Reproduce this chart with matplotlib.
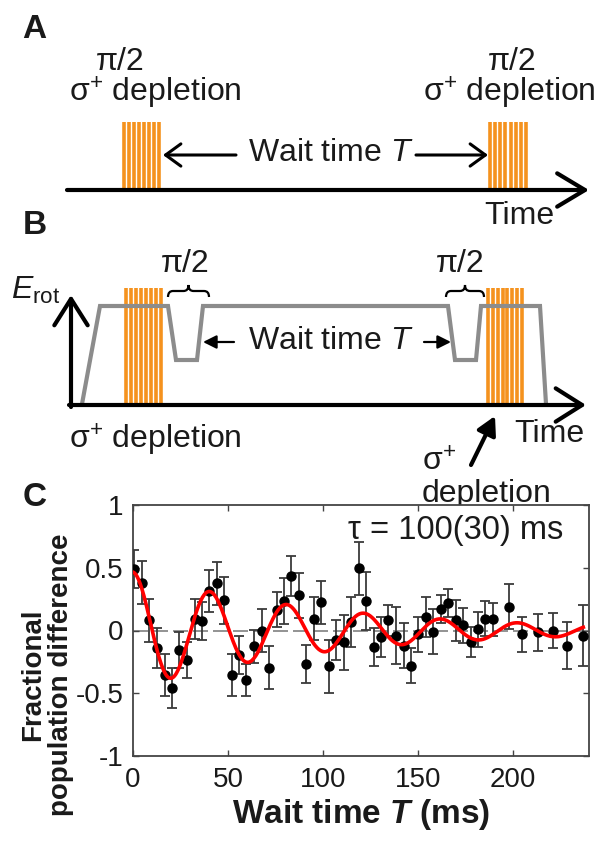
import numpy as np
import matplotlib.pyplot as plt
from matplotlib.path import Path
from matplotlib.patches import PathPatch

plt.rcParams['font.family'] = ['Liberation Sans', 'DejaVu Sans']
plt.rcParams['mathtext.fontset'] = 'custom'
plt.rcParams['mathtext.rm'] = 'Liberation Sans'
plt.rcParams['mathtext.it'] = 'Liberation Sans:italic'
plt.rcParams['mathtext.bf'] = 'Liberation Sans:bold'
plt.rcParams['mathtext.bfit'] = 'Liberation Sans:bold:italic'

# panel C data
T_ms = [0.5, 4.7, 8.6, 12.6, 16.7, 20.4, 24.4, 28.4, 32.5, 36.3, 40.2, 44.1, 48.1,
        51.9, 55.9, 59.6, 63.7, 67.7, 71.7, 75.6, 79.3, 83.3, 87.2, 91.2, 95.3,
        99.1, 103.0, 106.8, 110.9, 114.7, 118.7, 122.6, 126.7, 130.5, 134.4,
        138.4, 142.5, 146.3, 150.2, 154.1, 157.9, 161.9, 165.9, 169.8, 173.5,
        177.7, 181.7, 185.4, 189.3, 197.7, 204.9, 213.0, 220.9, 228.6, 237.0]
pop_diff = [0.49, 0.38, 0.08, -0.14, -0.355, -0.455, -0.155, -0.235, 0.09, 0.075,
            0.315, 0.375, 0.24, -0.355, -0.195, -0.395, -0.125, 0.0, -0.295, 0.165,
            0.235, 0.435, 0.28, -0.265, 0.095, 0.225, -0.285, -0.075, -0.095, 0.065,
            0.495, 0.235, -0.13, -0.055, 0.08, -0.04, -0.12, -0.28, -0.03, 0.105,
            -0.01, 0.17, 0.22, 0.08, 0.04, -0.095, 0.01, 0.095, 0.09, 0.19,
            -0.03, -0.015, 0.0, -0.12, -0.04]
pop_err = [0.15, 0.17, 0.17, 0.16, 0.17, 0.16, 0.14, 0.14, 0.16, 0.15,
           0.17, 0.17, 0.19, 0.17, 0.15, 0.13, 0.13, 0.17, 0.17, 0.14,
           0.18, 0.16, 0.18, 0.15, 0.17, 0.17, 0.21, 0.16, 0.22, 0.20,
           0.21, 0.23, 0.15, 0.16, 0.12, 0.23, 0.18, 0.14, 0.14, 0.16,
           0.18, 0.11, 0.11, 0.16, 0.14, 0.12, 0.14, 0.14, 0.13, 0.18,
           0.14, 0.15, 0.14, 0.19, 0.24]

# damped cosine fit parameters
fit_amp = 0.465
fit_tau = 100.0
fit_period = 40.5

# schematic layout (pixel coords, y down)
pulse_A = [(122, 161), (488, 528)]
pulse_B = [(124, 163), (486, 524)]
n_stripes = 8
erot_x = [82, 100, 168, 176, 197, 203, 448, 455, 476, 481, 540, 546]
erot_y = [404, 306, 306, 360, 360, 306, 306, 360, 360, 306, 306, 404]

orange = '#F5921E'
gray = '#8C8C8C'
txt = '#1a1a1a'

fig = plt.figure(figsize=(6, 8.52), dpi=100)
ax0 = fig.add_axes([0, 0, 1, 1])
ax0.set_xlim(0, 600)
ax0.set_ylim(852, 0)
ax0.axis('off')

big = 23


def stripes(ax, x0, x1, ytop, ybot):
    for xs in np.linspace(x0 + 2, x1 - 2, n_stripes):
        ax.plot([xs, xs], [ytop, ybot], color=orange, lw=2.6, solid_capstyle='butt', zorder=2)


def brace(ax, x0, x1, ytip, yend):
    xm = (x0 + x1) / 2
    ymid = (ytip + yend) / 2
    r = 5
    verts = [(x0, yend), (x0, ymid), (x0 + r, ymid),
             (xm - r, ymid), (xm, ymid), (xm, ytip),
             (xm, ymid), (xm + r, ymid),
             (x1 - r, ymid), (x1, ymid), (x1, yend)]
    codes = [Path.MOVETO, Path.CURVE3, Path.CURVE3,
             Path.LINETO, Path.CURVE3, Path.CURVE3,
             Path.CURVE3, Path.CURVE3,
             Path.LINETO, Path.CURVE3, Path.CURVE3]
    ax.add_patch(PathPatch(Path(verts, codes), fill=False, lw=1.6, color='k'))


def arrow(ax, tail, tip, lw, style):
    ax.annotate('', xy=tip, xytext=tail,
                arrowprops=dict(arrowstyle=style, lw=lw, color='k',
                                shrinkA=0, shrinkB=0, mutation_scale=20))


# ---- panel A
ax0.text(34, 30, 'A', fontsize=24, fontweight='bold', ha='center', va='center', color=txt)
for (x0, x1) in pulse_A:
    stripes(ax0, x0, x1, 122, 189)
for xc in [120, 512]:
    ax0.text(xc, 62, 'π/2', fontsize=big, ha='center', va='center', color=txt)
for xc in [155, 509]:
    ax0.text(xc, 93, 'σ$^{+}$ depletion', fontsize=big, ha='center', va='center', color=txt)
arrow(ax0, (67, 190), (589, 190), 3, '->,head_length=1.0,head_width=0.6')
ax0.text(519, 216, 'Time', fontsize=big, ha='center', va='center', color=txt)
ax0.text(331, 153, 'Wait time $T$', fontsize=big, ha='center', va='center', color=txt)
arrow(ax0, (236, 155), (163, 155), 2.2, '->,head_length=0.55,head_width=0.4')
arrow(ax0, (416, 155), (488, 155), 2.2, '->,head_length=0.55,head_width=0.4')

# ---- panel B
ax0.text(35, 226, 'B', fontsize=24, fontweight='bold', ha='center', va='center', color=txt)
ax0.text(36, 290, '$E_{\\mathrm{rot}}$', fontsize=big, ha='center', va='center', color=txt)
for (x0, x1) in pulse_B:
    stripes(ax0, x0, x1, 288, 404)
ax0.plot(erot_x, erot_y, color=gray, lw=3, zorder=3, solid_joinstyle='miter')
arrow(ax0, (71, 407), (71, 295), 3, '->,head_length=0.95,head_width=0.6')
arrow(ax0, (69, 405), (586, 405), 3, '->,head_length=0.95,head_width=0.6')
for xc in [185, 460]:
    ax0.text(xc, 264, 'π/2', fontsize=big, ha='center', va='center', color=txt)
brace(ax0, 168, 209, 285, 297)
brace(ax0, 446, 484, 285, 297)
ax0.text(331, 341, 'Wait time $T$', fontsize=big, ha='center', va='center', color=txt)
arrow(ax0, (234, 342), (203, 342), 1.6, '-|>,head_length=0.4,head_width=0.2')
arrow(ax0, (424, 342), (451, 342), 1.6, '-|>,head_length=0.4,head_width=0.2')
ax0.text(155, 440, 'σ$^{+}$ depletion', fontsize=big, ha='center', va='center', color=txt)
ax0.text(549, 434, 'Time', fontsize=big, ha='center', va='center', color=txt)
ax0.text(422, 478, 'σ$^{+}$\ndepletion', fontsize=big, ha='left', va='center',
         color=txt, linespacing=1.05)
arrow(ax0, (471, 465), (495, 416), 3, '-|>,head_length=0.55,head_width=0.3')

# ---- panel C
ax0.text(35, 497, 'C', fontsize=24, fontweight='bold', ha='center', va='center', color=txt)

ax = fig.add_axes([133 / 600, 1 - 756 / 852, 456 / 600, 251 / 852])
ax.axhline(0, color='#808080', lw=1.2, dashes=(9, 3), zorder=1)
t_fit = np.linspace(0, 237, 500)
fit = fit_amp * np.exp(-t_fit / fit_tau) * np.cos(2 * np.pi * t_fit / fit_period)
ax.errorbar(T_ms, pop_diff, yerr=pop_err, fmt='o', color='k', ms=6.5,
            ecolor='#3a3a3a', elinewidth=1.3, capsize=3.5, capthick=1.3, zorder=3)
ax.plot(t_fit, fit, color='#ff0000', lw=2.6, zorder=4)

ax.set_xlim(0, 240)
ax.set_ylim(-1, 1)
ax.set_xticks([0, 50, 100, 150, 200])
ax.set_yticks([-1, -0.5, 0, 0.5, 1])
ax.set_yticklabels(['-1', '-0.5', '0', '0.5', '1'])
ax.tick_params(direction='in', length=4, width=1, colors='#444444', labelcolor=txt,
               labelsize=20, top=True, right=True)
ax.tick_params(axis='x', pad=8)
ax.tick_params(axis='y', pad=7)
for s in ax.spines.values():
    s.set_color('#444444')
    s.set_linewidth(1.3)

ax.set_xlabel('Wait time $\\mathbfit{T}$ (ms)', fontsize=24, fontweight='bold',
              color=txt, labelpad=3)
fig.text(47 / 600, 1 - 675 / 852, 'Fractional\npopulation difference', rotation=90,
         fontsize=20, fontweight='bold', ha='center', va='center', color=txt,
         multialignment='center', linespacing=1.05)
ax.text(0.943, 0.9, 'τ = 100(30) ms', transform=ax.transAxes, fontsize=23.5,
        ha='right', va='center', color=txt)

fig.savefig('out.png', dpi=100)
